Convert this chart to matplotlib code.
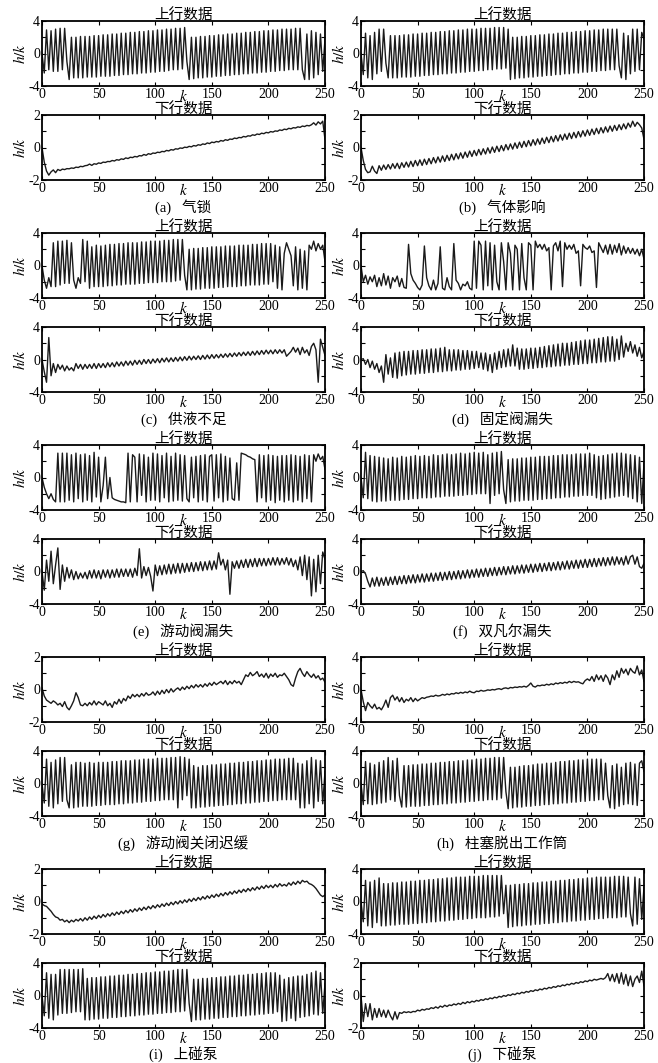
import numpy as np
import matplotlib
matplotlib.use("Agg")
import matplotlib.pyplot as plt

plt.rcParams["font.family"] = ["Liberation Serif", "Noto Sans CJK SC"]
plt.rcParams["mathtext.fontset"] = "stix"
plt.rcParams["axes.unicode_minus"] = False

# ── Values, one sample every 2 k (k = 0, 2, ..., 250) ──
up_a = [0.0, -2.4, 2.9, -2.0, 2.8, -2.2, 3.0, -2.2, 3.1, -2.0,
        3.1, -1.0, -3.2, 2.0, -3.0, 2.0, -3.0, 2.1, -3.0, 2.1,
        -2.9, 2.1, -2.9, 2.2, -2.9, 2.2, -2.8, 2.3, -2.8, 2.3,
        -2.8, 2.4, -2.7, 2.4, -2.7, 2.5, -2.6, 2.5, -2.6, 2.6,
        -2.5, 2.6, -2.5, 2.7, -2.4, 2.7, -2.4, 2.8, -2.3, 2.8,
        -2.3, 2.9, -2.2, 2.9, -2.2, 3.0, -2.1, 3.0, -2.0, 3.1,
        -2.0, 3.1, -1.9, 3.2, -1.0, -3.2, 2.0, -3.1, 2.0, -3.0,
        2.1, -3.0, 2.1, -2.9, 2.2, -2.9, 2.2, -2.8, 2.3, -2.8,
        2.3, -2.7, 2.4, -2.7, 2.4, -2.6, 2.5, -2.6, 2.5, -2.5,
        2.6, -2.5, 2.6, -2.4, 2.7, -2.4, 2.7, -2.3, 2.8, -2.3,
        2.8, -2.2, 2.9, -2.2, 2.9, -2.1, 3.0, -2.1, 3.0, -2.0,
        3.0, -2.0, 3.1, -2.0, 3.1, -2.0, -3.2, 2.4, -3.2, 2.8,
        -3.0, 2.6, -2.6, 2.4, -2.2, 1.8]
dn_a = [0.0, -0.9, -1.45, -1.7, -1.5, -1.38, -1.55, -1.35, -1.42, -1.33,
        -1.36, -1.30, -1.31, -1.26, -1.28, -1.21, -1.23, -1.16, -1.18, -1.12,
        -1.10, -1.02, -1.10, -1.00, -1.03, -0.95, -0.98, -0.90, -0.92, -0.86,
        -0.87, -0.80, -0.83, -0.75, -0.78, -0.70, -0.73, -0.64, -0.68, -0.60,
        -0.62, -0.55, -0.58, -0.50, -0.52, -0.43, -0.48, -0.38, -0.42, -0.34,
        -0.36, -0.29, -0.31, -0.24, -0.26, -0.18, -0.21, -0.13, -0.16, -0.08,
        -0.10, -0.03, -0.05, 0.02, 0.00, 0.07, 0.04, 0.12, 0.09, 0.17,
        0.14, 0.22, 0.19, 0.28, 0.24, 0.33, 0.30, 0.37, 0.34, 0.43,
        0.39, 0.48, 0.44, 0.52, 0.50, 0.58, 0.55, 0.62, 0.60, 0.68,
        0.65, 0.72, 0.70, 0.78, 0.75, 0.83, 0.80, 0.88, 0.85, 0.93,
        0.90, 0.98, 0.95, 1.02, 1.00, 1.08, 1.05, 1.13, 1.10, 1.18,
        1.15, 1.22, 1.20, 1.27, 1.24, 1.32, 1.29, 1.36, 1.33, 1.40,
        1.52, 1.38, 1.58, 1.45, 1.62, 0.5]

up_b = [0.0, -2.6, 2.5, -3.0, 2.2, -3.2, 2.6, -2.5, 3.0, -2.2,
        3.0, -1.2, -3.0, 2.2, -3.0, 2.2, -3.0, 2.2, -2.9, 2.3,
        -2.9, 2.3, -2.9, 2.4, -2.8, 2.4, -2.8, 2.5, -2.7, 2.5,
        -2.7, 2.6, -2.6, 2.6, -2.6, 2.7, -2.5, 2.7, -2.5, 2.8,
        -2.4, 2.8, -2.4, 2.9, -2.3, 2.9, -2.3, 3.0, -2.2, 3.0,
        -2.2, 3.0, -2.1, 3.1, -2.1, 3.1, -2.0, 3.1, -2.0, 3.2,
        -1.9, 3.2, -1.9, 3.2, -1.8, 3.0, -3.2, 2.0, -3.1, 2.0,
        -3.0, 2.1, -3.0, 2.1, -2.9, 2.2, -2.9, 2.2, -2.8, 2.3,
        -2.8, 2.3, -2.7, 2.4, -2.7, 2.4, -2.6, 2.5, -2.6, 2.5,
        -2.5, 2.6, -2.5, 2.6, -2.4, 2.7, -2.4, 2.7, -2.3, 2.8,
        -2.3, 2.8, -2.2, 2.9, -2.2, 2.9, -2.1, 3.0, -2.1, 3.0,
        -2.0, 3.0, -2.0, 3.0, -1.5, -3.0, 2.5, -3.2, 2.2, -2.5,
        3.0, -2.2, 3.0, -2.0, 2.6, 1.8]
dn_b = [0.0, -0.8, -1.35, -1.55, -1.5, -1.15, -1.45, -1.60, -1.12, -1.40,
        -1.08, -1.35, -1.05, -1.32, -1.00, -1.28, -0.97, -1.30, -0.94, -1.22,
        -0.90, -1.20, -0.85, -1.17, -0.80, -1.12, -0.76, -1.10, -0.72, -1.05,
        -0.68, -1.00, -0.62, -0.95, -0.58, -0.90, -0.52, -0.86, -0.48, -0.80,
        -0.42, -0.76, -0.38, -0.70, -0.33, -0.66, -0.28, -0.60, -0.22, -0.55,
        -0.18, -0.50, -0.12, -0.45, -0.08, -0.40, -0.02, -0.35, 0.03, -0.30,
        0.08, -0.25, 0.12, -0.20, 0.18, -0.14, 0.22, -0.10, 0.28, -0.05,
        0.33, 0.00, 0.38, 0.05, 0.43, 0.10, 0.48, 0.15, 0.53, 0.20,
        0.58, 0.25, 0.63, 0.30, 0.68, 0.35, 0.73, 0.40, 0.78, 0.45,
        0.83, 0.50, 0.88, 0.55, 0.93, 0.60, 0.98, 0.65, 1.03, 0.70,
        1.08, 0.75, 1.13, 0.80, 1.18, 0.85, 1.22, 0.90, 1.27, 0.95,
        1.32, 1.00, 1.36, 1.05, 1.40, 1.10, 1.45, 1.15, 1.50, 1.25,
        1.62, 1.30, 1.55, 1.40, 1.20, 0.5]

up_c = [0.0, -1.8, -2.8, -1.5, -2.6, 2.8, -2.6, 3.0, -2.4, 3.0,
        -2.2, 3.1, -2.2, 2.8, -1.8, -2.8, -1.5, -2.2, 3.2, -2.0,
        3.0, -2.8, 2.3, -2.6, 2.5, -2.6, 2.4, -2.6, 2.5, -2.5,
        2.6, -2.5, 2.6, -2.4, 2.7, -2.4, 2.7, -2.3, 2.8, -2.3,
        2.8, -2.3, 2.8, -2.2, 2.9, -2.2, 2.9, -2.1, 3.0, -2.1,
        3.0, -2.1, 3.0, -2.0, 3.1, -2.0, 3.1, -2.0, 3.2, -1.9,
        3.2, -1.8, 3.2, -1.2, -3.0, 2.0, -3.0, 2.1, -2.9, 2.1,
        -2.9, 2.2, -2.8, 2.2, -2.8, 2.3, -2.8, 2.3, -2.7, 2.3,
        -2.7, 2.4, -2.6, 2.4, -2.6, 2.4, -2.6, 2.5, -2.5, 2.5,
        -2.5, 2.5, -2.4, 2.6, -2.4, 2.6, -2.4, 2.7, -2.3, 2.7,
        -2.3, 2.7, -2.0, 2.5, -2.8, 2.3, -3.0, 1.5, 2.8, 2.0,
        1.2, -2.5, 2.3, -3.0, 2.0, -2.8, 1.8, -3.0, 2.5, 2.0,
        3.0, 1.8, 2.7, 2.0, 2.5, 0.5]
dn_c = [0.0, -1.5, -2.8, 2.7, -2.0, -0.5, -1.6, -0.6, -1.2, -0.7,
        -1.4, -0.8, -1.3, -1.0, -1.4, -0.5, -1.1, -0.6, -1.2, -0.6,
        -1.1, -0.6, -1.1, -0.5, -1.1, -0.5, -1.0, -0.5, -1.0, -0.4,
        -0.9, -0.4, -0.9, -0.3, -0.8, -0.3, -0.8, -0.2, -0.7, -0.2,
        -0.7, -0.1, -0.6, -0.1, -0.6, 0.0, -0.5, 0.0, -0.5, 0.05,
        -0.4, 0.1, -0.4, 0.15, -0.3, 0.2, -0.3, 0.2, -0.25, 0.25,
        -0.2, 0.3, -0.15, 0.35, -0.1, 0.4, -0.05, 0.4, 0.0, 0.45,
        0.0, 0.5, 0.05, 0.55, 0.1, 0.6, 0.15, 0.6, 0.2, 0.65,
        0.25, 0.7, 0.3, 0.75, 0.35, 0.8, 0.4, 0.85, 0.45, 0.9,
        0.5, 0.95, 0.5, 1.0, 0.55, 1.05, 0.6, 1.1, 0.65, 1.15,
        0.7, 1.15, 0.7, 1.2, 0.75, 1.2, 0.8, 1.2, 0.4, 0.7,
        1.0, 1.5, 0.9, 1.4, 0.6, 1.5, 0.8, 1.2, 0.5, 1.6,
        2.0, 1.2, -2.8, 2.5, 1.5, 0.5]

up_d = [0.0, -2.0, -1.2, -2.3, -1.4, -2.0, -1.2, -2.6, -1.5, -2.5,
        -1.0, -2.4, -1.3, -2.8, -1.5, -2.0, -1.3, -2.6, -1.6, -2.7,
        -2.8, 2.6, -1.0, -1.8, -2.2, -2.7, -3.0, -2.4, 2.4, -1.5,
        -2.5, -3.0, -1.8, -3.0, -2.2, 2.3, -2.8, -3.0, -1.5, -2.6,
        -3.0, 2.7, -1.8, -2.2, -3.0, -2.3, -2.5, -2.0, -2.8, -3.0,
        3.0, -2.8, 3.0, 2.5, -3.0, 3.0, -2.5, 2.8, -3.0, 2.5,
        -2.0, -3.0, 2.8, 0.5, -3.0, 2.8, 1.5, -3.0, 2.5, 2.0,
        -3.0, 2.7, -1.5, -3.0, 2.8, 2.5, -3.0, 3.0, 2.2, 2.6,
        2.0, 2.6, 1.8, 2.2, -3.0, 2.4, 2.8, 1.8, 3.0, -2.6,
        2.8, 2.0, 2.5, 2.0, 2.6, 1.5, 1.8, -2.5, 2.6, 2.2,
        2.0, 2.4, 1.6, 1.8, -2.7, 2.8, 2.2, 1.6, 2.5, 1.4,
        2.6, 1.4, 2.5, 1.6, 2.7, 1.3, 2.4, 1.5, 2.2, 1.5,
        2.1, 1.4, 2.0, 1.2, 2.0, 0.8]
dn_d = [0.0, 0.1, -0.6, 0.0, -1.0, -0.2, -1.2, -0.5, -1.6, -0.8,
        -2.8, 0.6, -1.8, 0.2, -2.2, 0.8, -2.3, 0.9, -2.0, 1.0,
        -1.9, 1.0, -1.8, 1.1, -1.8, 1.1, -1.7, 1.2, -1.7, 1.2,
        -1.6, 1.3, -1.6, 1.3, -1.5, 1.4, -1.5, 1.5, -1.4, 1.2,
        -1.4, 1.2, -1.3, 1.2, -1.3, 1.1, -1.2, 1.1, -1.2, 1.0,
        -1.1, 1.0, -1.0, 0.8, -1.2, 0.8, -1.4, 0.6, -1.6, 0.8,
        -1.2, 1.0, -1.0, 1.2, -0.9, 1.3, -0.8, 1.8, -0.8, 1.4,
        -1.2, 1.3, -1.2, 1.3, -1.1, 1.4, -1.1, 1.4, -1.0, 1.5,
        -1.0, 1.6, -0.9, 1.7, -0.9, 1.8, -0.8, 1.9, -0.8, 2.0,
        -0.7, 2.0, -0.7, 2.1, -0.6, 2.2, -0.6, 2.3, -0.5, 2.4,
        -0.5, 2.4, -0.4, 2.5, -0.4, 2.6, -0.3, 2.7, -0.3, 2.8,
        -0.2, 2.8, -0.2, 2.5, 0.0, 2.9, 0.3, 2.0, 1.0, 2.2,
        0.8, 1.8, 0.4, 1.5, 0.2, 1.0]

up_e = [0.0, -1.2, -2.0, -2.6, -2.0, -2.7, -3.0, 3.0, -3.0, 3.0,
        -3.0, 3.0, -2.8, 2.8, -3.0, 3.0, -2.6, 2.8, -3.0, 2.9,
        -2.8, 2.7, -3.0, 3.1, -2.4, 2.5, -3.0, -1.0, 2.5, -2.6,
        0.0, -2.5, -2.7, -2.8, -2.9, -3.0, -3.0, -3.1, 3.0, -3.0,
        2.8, 2.5, -3.0, 2.9, -2.2, 2.8, -3.0, 2.5, -2.8, 3.0,
        -2.8, 2.9, -3.0, 2.7, -2.5, 3.0, -3.0, 2.6, -2.9, 3.0,
        -2.8, 2.8, -2.9, 2.7, -2.6, -3.0, 2.5, -2.5, 2.6, -3.0,
        2.7, -2.8, 2.8, -3.0, 2.6, 2.8, -2.9, 2.8, -2.5, 2.9,
        -3.0, 2.6, -2.8, 2.4, -2.6, -2.8, 1.8, -2.8, 3.0, 2.9,
        2.8, 2.6, 2.5, 2.3, 2.2, -3.0, 2.8, -2.5, 2.7, -3.0,
        2.8, -2.8, 2.7, -3.1, 2.6, -2.8, 2.7, -3.0, 2.7, -2.8,
        2.8, -3.0, 2.7, -2.8, 2.6, -3.0, 2.8, -2.6, 2.7, -3.0,
        2.8, 2.0, 2.9, 2.2, 2.6, 1.0]
dn_e = [0.0, -2.3, 1.4, -1.2, 2.5, -1.5, 0.8, 2.9, -2.2, 0.8,
        -1.2, 0.5, -0.8, 0.2, -1.0, 0.0, -0.9, -0.2, -0.8, -0.1,
        -0.9, 0.1, -0.8, 0.2, -0.8, 0.1, -0.9, 0.2, -0.7, 0.2,
        -0.8, 0.2, -0.7, 0.3, -0.7, 0.3, -0.6, 0.3, -0.6, 0.3,
        -0.7, 0.4, -0.5, 2.8, -0.8, 0.6, -0.5, 0.5, -0.6, -2.4,
        0.8, -0.5, 0.7, -0.4, 0.8, -0.3, 0.9, -0.3, 0.9, -0.2,
        1.0, -0.2, 1.0, -0.1, 1.0, 0.0, 1.1, 0.0, 1.1, 0.1,
        1.2, 0.1, 1.2, 0.2, 1.3, 0.2, 1.3, 0.3, 2.3, 0.8,
        1.5, 0.2, 1.4, -2.8, 1.2, 0.4, 1.3, 0.4, 1.4, 0.5,
        1.5, 0.5, 1.5, 0.6, 1.6, 0.6, 1.6, 0.7, 1.6, 0.7,
        1.6, 0.8, 1.7, 0.8, 1.7, 0.8, 1.6, 0.9, 1.7, 0.8,
        1.6, 0.6, 1.4, 0.2, 1.8, -0.5, 2.0, -1.0, 1.8, -3.0,
        1.5, -2.5, 2.0, -1.5, 2.4, 1.5]

up_f = [0.0, -2.5, 3.1, -2.6, 2.7, -2.9, 2.6, -3.0, 2.5, -2.9,
        2.4, -2.9, 2.3, -2.8, 2.5, -2.8, 2.4, -2.8, 2.6, -2.7,
        2.5, -2.7, 2.6, -2.6, 2.7, -2.6, 2.6, -2.5, 2.7, -2.5,
        2.6, -2.5, 2.8, -2.4, 2.7, -2.4, 2.8, -2.3, 2.9, -2.3,
        2.8, -2.3, 2.9, -2.2, 3.0, -2.2, 2.9, -2.1, 3.0, -2.1,
        3.1, -2.0, 3.0, -2.0, 3.1, -2.0, 2.8, -3.2, 3.0, -2.2,
        3.1, -2.0, 3.2, -1.5, -3.2, 2.2, -3.0, 2.3, -2.9, 2.3,
        -2.9, 2.4, -2.8, 2.4, -2.8, 2.5, -2.8, 2.5, -2.7, 2.6,
        -2.7, 2.6, -2.6, 2.6, -2.6, 2.7, -2.5, 2.7, -2.5, 2.8,
        -2.4, 2.8, -2.4, 2.8, -2.3, 2.9, -2.3, 2.9, -2.2, 2.9,
        -2.2, 3.0, -2.2, 2.8, -2.5, 2.6, -2.7, 2.7, -2.6, 2.8,
        -2.5, 2.9, -2.4, 3.0, -2.3, 3.0, -2.2, 2.9, -2.4, 2.8,
        -2.6, 2.7, -3.0, 2.5, -3.2, 1.8]
dn_f = [0.0, 0.1, -0.3, -1.2, -1.9, -0.8, -1.8, -0.7, -1.8, -0.8,
        -1.7, -0.7, -1.7, -0.7, -1.6, -0.6, -1.6, -0.6, -1.5, -0.5,
        -1.5, -0.5, -1.4, -0.4, -1.4, -0.4, -1.3, -0.3, -1.3, -0.3,
        -1.2, -0.2, -1.2, -0.2, -1.1, -0.1, -1.1, -0.1, -1.0, 0.0,
        -1.0, 0.0, -0.9, 0.1, -0.9, 0.1, -0.8, 0.2, -0.8, 0.2,
        -0.7, 0.3, -0.7, 0.3, -0.6, 0.4, -0.6, 0.4, -0.5, 0.5,
        -0.5, 0.5, -0.4, 0.6, -0.4, 0.6, -0.3, 0.7, -0.3, 0.7,
        -0.2, 0.8, -0.2, 0.8, -0.1, 0.9, -0.1, 0.9, 0.0, 1.0,
        0.0, 1.0, 0.1, 1.1, 0.1, 1.1, 0.2, 1.2, 0.2, 1.2,
        0.3, 1.3, 0.3, 1.3, 0.4, 1.4, 0.4, 1.4, 0.5, 1.5,
        0.5, 1.5, 0.6, 1.6, 0.6, 1.6, 0.7, 1.7, 0.7, 1.7,
        0.8, 1.8, 0.8, 1.8, 0.9, 1.7, 0.8, 1.9, 0.9, 1.8,
        2.0, 0.9, 1.8, 0.6, 0.4, 1.0]

up_g = [0.1, -0.4, -0.65, -0.75, -0.85, -0.7, -0.8, -0.95, -0.85, -1.05,
        -0.75, -1.1, -1.25, -1.0, -0.7, -0.2, -0.5, -0.95, -1.0, -0.85,
        -1.0, -0.8, -0.95, -0.7, -0.95, -0.75, -0.85, -0.95, -0.7, -1.0,
        -0.85, -1.1, -0.75, -0.9, -0.6, -0.85, -0.55, -0.7, -0.4, -0.55,
        -0.3, -0.45, -0.3, -0.45, -0.25, -0.4, -0.2, -0.35, -0.3, -0.15,
        -0.35, -0.1, -0.3, -0.05, -0.25, 0.0, -0.2, 0.05, -0.15, 0.0,
        0.1, -0.05, 0.15, 0.0, 0.2, 0.05, 0.25, 0.1, 0.3, 0.15,
        0.3, 0.15, 0.35, 0.2, 0.4, 0.25, 0.45, 0.3, 0.4, 0.5,
        0.35, 0.55, 0.3, 0.5, 0.35, 0.55, 0.4, 0.5, 0.3, 0.6,
        0.9, 0.8, 1.05, 0.85, 0.95, 1.1, 0.8, 0.95, 0.75, 1.0,
        0.7, 0.95, 0.8, 1.0, 0.75, 0.9, 0.85, 1.0, 0.8, 0.6,
        0.3, 0.2, 0.7, 1.1, 1.3, 1.0, 0.8, 1.1, 0.9, 0.75,
        0.95, 0.7, 0.85, 0.6, 0.7, 0.45]
dn_g = [0.0, -2.4, 3.0, -2.8, 2.6, -3.0, 2.9, -2.5, 3.2, -2.2,
        3.2, -2.0, -3.0, 2.3, -3.0, 2.6, -2.9, 2.6, -2.8, 2.5,
        -2.8, 2.6, -2.8, 2.5, -2.7, 2.6, -2.7, 2.6, -2.6, 2.6,
        -2.6, 2.7, -2.6, 2.7, -2.5, 2.8, -2.5, 2.8, -2.4, 2.8,
        -2.4, 2.9, -2.3, 2.9, -2.3, 3.0, -2.2, 3.0, -2.2, 3.0,
        -2.1, 3.1, -2.1, 3.1, -2.0, 3.1, -2.0, 3.2, -2.0, 3.2,
        -3.0, 3.3, -2.0, 3.2, -1.5, 3.0, -3.0, 2.2, -3.0, 2.0,
        -2.9, 2.2, -2.9, 2.2, -2.8, 2.3, -2.8, 2.3, -2.7, 2.4,
        -2.7, 2.4, -2.6, 2.5, -2.6, 2.5, -2.5, 2.6, -2.5, 2.6,
        -2.4, 2.7, -2.4, 2.7, -2.3, 2.8, -2.3, 2.8, -2.2, 2.9,
        -2.2, 2.9, -2.1, 3.0, -2.1, 3.0, -2.0, 3.0, -2.0, 3.1,
        -2.0, 3.1, -2.0, 2.5, -3.0, 2.4, -3.0, 2.8, -2.5, 3.2,
        -3.0, 2.9, -2.2, 2.8, -2.5, 1.5]

up_h = [0.0, -1.5, -2.6, -1.6, -2.0, -2.3, -1.8, -2.4, -2.2, -2.5,
        -2.0, -1.3, -2.2, -1.0, -0.7, -1.3, -0.9, -1.5, -1.0, -1.6,
        -1.2, -1.4, -1.0, -1.5, -1.1, -1.4, -1.2, -1.0, -1.1, -0.95,
        -0.9, -0.8, -0.85, -0.7, -0.8, -0.75, -0.6, -0.7, -0.55, -0.65,
        -0.5, -0.55, -0.4, -0.5, -0.35, -0.45, -0.3, -0.4, -0.2, -0.35,
        -0.4, -0.2, -0.25, -0.1, -0.2, -0.15, -0.05, -0.1, 0.0, -0.05,
        0.05, 0.1, 0.0, 0.15, 0.2, 0.1, 0.25, 0.2, 0.3, 0.25,
        0.35, 0.3, 0.4, 0.3, 0.5, 0.8, 0.4, 0.3, 0.5, 0.45,
        0.55, 0.5, 0.65, 0.55, 0.7, 0.6, 0.8, 0.7, 0.85, 0.75,
        0.9, 0.8, 1.0, 0.85, 1.0, 0.9, 0.95, 0.8, 0.7, 1.1,
        1.3, 1.1, 1.6, 1.0, 1.8, 1.2, 1.7, 1.0, 1.8, 1.4,
        0.6, 1.8, 1.2, 2.3, 1.5, 2.6, 2.0, 2.5, 1.8, 2.6,
        2.2, 2.0, 2.9, 1.8, 2.4, 1.0]
dn_h = [0.0, -2.6, 2.7, -2.5, 2.5, -2.6, 2.3, -2.5, 2.6, -2.4,
        2.8, -2.3, 3.2, -2.0, 2.8, -2.2, 3.1, -1.5, -2.9, 2.2,
        -2.9, 2.2, -2.8, 2.3, -2.8, 2.3, -2.8, 2.4, -2.7, 2.4,
        -2.7, 2.5, -2.6, 2.5, -2.6, 2.6, -2.5, 2.6, -2.5, 2.7,
        -2.4, 2.7, -2.4, 2.8, -2.3, 2.8, -2.3, 2.9, -2.2, 2.9,
        -2.2, 3.0, -2.1, 3.0, -2.1, 3.1, -2.0, 3.1, -2.0, 3.2,
        -2.0, 3.2, -1.8, 3.2, -1.0, -3.1, 2.0, -3.0, 2.0, -2.9,
        2.1, -2.9, 2.2, -2.8, 2.2, -2.8, 2.3, -2.7, 2.4, -2.7,
        2.4, -2.6, 2.5, -2.6, 2.5, -2.5, 2.6, -2.5, 2.7, -2.4,
        2.7, -2.4, 2.8, -2.3, 2.8, -2.3, 2.9, -2.2, 2.9, -2.2,
        3.0, -2.1, 3.0, -2.1, 3.0, -2.0, 3.0, -2.0, 2.5, -1.5,
        -3.0, 2.2, -3.1, 2.4, -2.8, 2.0, -2.6, 2.5, -2.5, 2.6,
        -2.6, 2.4, -2.7, 2.5, 2.8, 1.5]

up_i = [-0.15, -0.25, -0.3, -0.45, -0.6, -0.8, -0.95, -1.0, -1.15, -1.1,
        -1.25, -1.15, -1.3, -1.15, -1.25, -1.1, -1.2, -1.05, -1.2, -1.0,
        -1.15, -0.95, -1.1, -0.9, -1.05, -0.85, -1.0, -0.8, -0.95, -0.75,
        -0.9, -0.7, -0.85, -0.65, -0.8, -0.6, -0.75, -0.55, -0.7, -0.5,
        -0.65, -0.45, -0.6, -0.4, -0.55, -0.35, -0.5, -0.3, -0.45, -0.25,
        -0.4, -0.2, -0.35, -0.15, -0.3, -0.1, -0.25, -0.05, -0.2, 0.0,
        -0.15, 0.05, -0.1, 0.1, -0.05, 0.15, 0.0, 0.2, 0.05, 0.25,
        0.1, 0.3, 0.15, 0.35, 0.2, 0.4, 0.25, 0.45, 0.3, 0.5,
        0.35, 0.55, 0.4, 0.6, 0.45, 0.65, 0.5, 0.7, 0.55, 0.75,
        0.6, 0.8, 0.65, 0.85, 0.7, 0.9, 0.75, 0.95, 0.8, 1.0,
        0.85, 1.0, 0.85, 1.05, 0.9, 1.1, 0.95, 1.05, 0.95, 1.15,
        1.0, 1.2, 1.05, 1.25, 1.1, 1.3, 1.2, 1.25, 1.1, 1.05,
        0.95, 0.8, 0.6, 0.4, 0.3, 0.4]
dn_i = [0.0, -2.5, 2.8, -2.8, 2.6, -3.0, 2.6, -2.4, 3.2, -2.2,
        3.2, -2.2, 3.2, -2.1, 3.2, -2.0, 3.2, -2.0, 3.3, -3.0,
        2.1, -3.0, 2.2, -2.9, 2.2, -2.9, 2.3, -2.8, 2.3, -2.8,
        2.4, -2.7, 2.4, -2.7, 2.5, -2.6, 2.5, -2.6, 2.6, -2.5,
        2.6, -2.5, 2.7, -2.4, 2.7, -2.4, 2.8, -2.3, 2.8, -2.3,
        2.9, -2.2, 2.9, -2.2, 3.0, -2.1, 3.0, -2.1, 3.1, -2.0,
        3.2, -2.0, 3.2, -1.9, 3.2, -1.0, -3.2, 2.0, -3.0, 2.0,
        -3.0, 2.1, -2.9, 2.1, -2.9, 2.2, -2.8, 2.2, -2.8, 2.3,
        -2.7, 2.3, -2.7, 2.4, -2.6, 2.4, -2.6, 2.5, -2.5, 2.5,
        -2.5, 2.6, -2.4, 2.6, -2.4, 2.7, -2.3, 2.7, -2.3, 2.8,
        -2.2, 2.8, -2.2, 2.8, -2.0, 2.5, -3.2, 2.0, -3.1, 2.2,
        -2.8, 2.3, -3.1, 2.4, -2.7, 2.4, -2.6, 2.6, -2.5, 2.8,
        -2.3, 3.0, -2.4, 2.8, -2.2, 1.5]

up_j = [0.0, -2.5, 2.6, -3.0, 2.4, -3.2, 2.6, -2.6, 2.9, -3.0,
        2.2, -3.0, 2.2, -2.9, 2.3, -2.9, 2.3, -2.8, 2.4, -2.8,
        2.4, -2.8, 2.5, -2.7, 2.5, -2.7, 2.6, -2.6, 2.6, -2.6,
        2.7, -2.5, 2.7, -2.5, 2.8, -2.4, 2.8, -2.4, 2.9, -2.3,
        2.9, -2.3, 3.0, -2.2, 3.0, -2.2, 3.0, -2.1, 3.1, -2.1,
        3.1, -2.0, 3.1, -2.0, 3.2, -2.0, 3.2, -1.9, 3.2, -1.9,
        3.2, -1.8, 3.2, -1.5, 2.0, -3.2, 2.0, -3.1, 2.1, -3.0,
        2.1, -3.0, 2.2, -2.9, 2.2, -2.9, 2.3, -2.8, 2.3, -2.8,
        2.4, -2.7, 2.4, -2.7, 2.5, -2.6, 2.5, -2.6, 2.6, -2.5,
        2.6, -2.5, 2.7, -2.4, 2.7, -2.4, 2.8, -2.3, 2.8, -2.3,
        2.9, -2.2, 2.9, -2.2, 3.0, -2.1, 3.0, -2.1, 3.0, -2.0,
        3.0, -2.0, 3.1, -2.0, 3.1, -1.9, 3.1, -1.9, 3.0, -1.5,
        -3.0, 3.0, -2.8, 2.8, -2.2, 1.8]
dn_j = [0.0, -1.6, -0.5, -1.3, -0.5, -1.5, -0.8, -1.35, -0.8, -1.3,
        -0.9, -1.35, -0.9, -1.25, -1.5, -1.0, -1.45, -1.05, -1.1, -1.0,
        -1.05, -1.0, -1.05, -0.98, -1.0, -0.9, -0.95, -0.85, -0.9, -0.82,
        -0.85, -0.75, -0.8, -0.7, -0.78, -0.65, -0.72, -0.6, -0.68, -0.58,
        -0.62, -0.52, -0.58, -0.48, -0.55, -0.42, -0.5, -0.38, -0.45, -0.35,
        -0.4, -0.3, -0.35, -0.25, -0.3, -0.2, -0.25, -0.15, -0.2, -0.1,
        -0.15, -0.05, -0.1, 0.0, -0.05, 0.05, 0.0, 0.1, 0.05, 0.15,
        0.1, 0.2, 0.15, 0.25, 0.2, 0.3, 0.25, 0.35, 0.3, 0.4,
        0.35, 0.45, 0.4, 0.5, 0.45, 0.55, 0.5, 0.6, 0.55, 0.65,
        0.6, 0.7, 0.65, 0.75, 0.7, 0.8, 0.75, 0.85, 0.8, 0.9,
        0.85, 0.95, 0.9, 1.0, 0.95, 1.0, 1.05, 1.0, 1.1, 1.35,
        0.9, 1.3, 0.85, 1.35, 0.75, 1.4, 0.7, 1.3, 0.6, 1.2,
        0.55, 1.0, 1.2, 0.8, 1.5, 0.6]

# caption, upstroke series, its y-limit, downstroke series, its y-limit
PANELS = [
    ("(a)   气锁", up_a, 4, dn_a, 2),
    ("(b)   气体影响", up_b, 4, dn_b, 2),
    ("(c)   供液不足", up_c, 4, dn_c, 4),
    ("(d)   固定阀漏失", up_d, 4, dn_d, 4),
    ("(e)   游动阀漏失", up_e, 4, dn_e, 4),
    ("(f)   双凡尔漏失", up_f, 4, dn_f, 4),
    ("(g)   游动阀关闭迟缓", up_g, 2, dn_g, 4),
    ("(h)   柱塞脱出工作筒", up_h, 4, dn_h, 4),
    ("(i)   上碰泵", up_i, 2, dn_i, 4),
    ("(j)   下碰泵", up_j, 4, dn_j, 2),
]

W, H = 658, 1063
fig = plt.figure(figsize=(W / 100, H / 100), dpi=100)
COL_X = [42, 361]
AX_W, AX_H = 283, 65


def add_panel(x0, top, vals, lim, title):
    ax = fig.add_axes([x0 / W, 1 - (top + AX_H) / H, AX_W / W, AX_H / H])
    k = np.arange(len(vals)) * 2
    ax.plot(k, vals, color="#1a1a1a", lw=1.0)
    ax.set_xlim(0, 250)
    ax.set_ylim(-lim, lim)
    ax.set_xticks(np.arange(0, 251, 50))
    ax.set_yticks([-lim, -lim / 2, 0, lim / 2, lim])
    ax.set_yticklabels([f"-{lim}", "", "0", "", f"{lim}"])
    ax.tick_params(direction="in", top=True, right=True, length=3,
                   width=0.8, labelsize=10, pad=1.5)
    for sp in ax.spines.values():
        sp.set_linewidth(1.3)
    ax.set_title(title, fontsize=10.5, pad=1.5)
    ax.set_ylabel("$h/k$", fontsize=11, labelpad=0)
    ax.text(0.5, -0.15, "$k$", transform=ax.transAxes, ha="center",
            va="center", fontsize=11)
    return ax


for i, (cap, up, up_lim, dn, dn_lim) in enumerate(PANELS):
    row, col = divmod(i, 2)
    top = 21 + 212 * row
    x0 = COL_X[col]
    add_panel(x0, top, up, up_lim, "上行数据")
    add_panel(x0, top + 94, dn, dn_lim, "下行数据")
    fig.text((x0 + AX_W / 2) / W, 1 - (top + 186) / H, cap,
             ha="center", va="center", fontsize=10.5)

fig.savefig("out.png", dpi=100)
